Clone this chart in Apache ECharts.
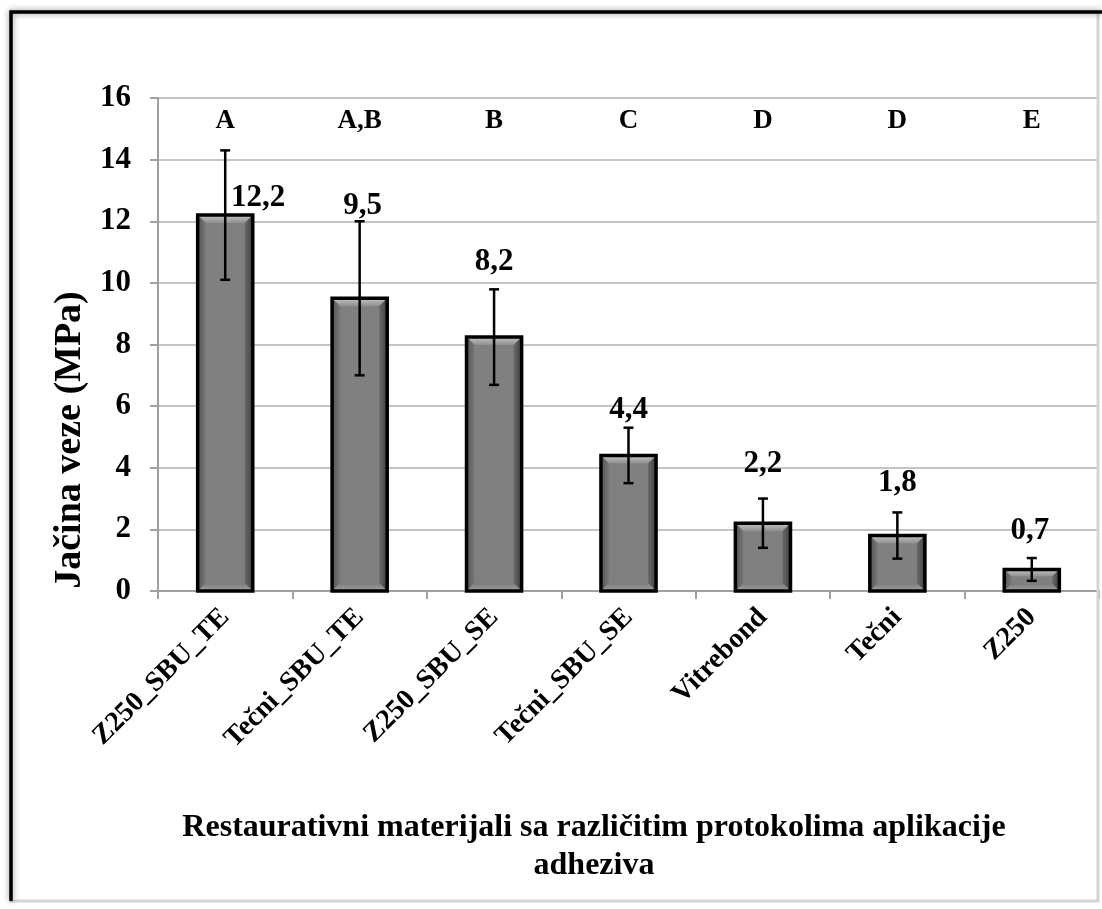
<!DOCTYPE html>
<html>
<head>
<meta charset="utf-8">
<script src="https://cdn.jsdelivr.net/npm/echarts@6/dist/echarts.min.js"></script>
<style>
html,body{margin:0;padding:0;background:#fff;}
#chart{width:1102px;height:909px;}
</style>
</head>
<body>
<div id="chart"></div>
<script>
// ---- data ----
const categories = ['Z250_SBU_TE', 'Tečni_SBU_TE', 'Z250_SBU_SE', 'Tečni_SBU_SE', 'Vitrebond', 'Tečni', 'Z250'];
const means = [12.2, 9.5, 8.24, 4.4, 2.2, 1.8, 0.7];
const sds = [2.1, 2.5, 1.55, 0.9, 0.8, 0.75, 0.37];
const groups = ['A', 'A,B', 'B', 'C', 'D', 'D', 'E'];
const yTicks = [0, 2, 4, 6, 8, 10, 12, 14, 16];
const yTitle = 'Jačina veze (MPa)';
const xTitleLines = ['Restaurativni materijali sa različitim protokolima aplikacije', 'adheziva'];

// ---- layout / style constants ----
const FONT = '"Liberation Serif", "Times New Roman", serif';
const groupLevel = 15.25;
// pixel offsets of value labels relative to the top of each error bar
const labelOffsets = [[33, 48], [3, -15], [0, -27], [0, -18], [0, -35], [0, -29], [-2, -27]];

const chart = echarts.init(document.getElementById('chart'), null, {renderer: 'canvas'});

const barData = means.map((v, i) => [i, v]);
const errData = means.map((v, i) => [i, v - sds[i], v + sds[i]]);
const grpData = groups.map((g, i) => [i, groupLevel]);
const valData = means.map((v, i) => [i, v + sds[i]]);

function txt(text, size) {
  return {text: text, fontFamily: FONT, fontWeight: 'bold', fontSize: size, fill: '#000', align: 'center', verticalAlign: 'middle'};
}

function renderBar(params, api) {
  const x = api.value(0), v = api.value(1);
  const top = api.coord([x, v]);
  const base = api.coord([x, 0]);
  const bw = api.size([1, 0])[0] * 0.41;
  const l = top[0] - bw / 2, r = top[0] + bw / 2, t = top[1], b = base[1];
  const h = b - t;
  const e = Math.min(8, h / 3);
  return {
    type: 'group',
    children: [
      {type: 'rect', shape: {x: l, y: t, width: bw, height: h}, style: {fill: '#808080'}},
      {type: 'polygon', shape: {points: [[l, t], [r, t], [r - e, t + e], [l + e, t + e]]},
        style: {fill: new echarts.graphic.LinearGradient(0, 0, 0, 1, [{offset: 0, color: '#c4c4c4'}, {offset: 1, color: '#8e8e8e'}])}},
      {type: 'polygon', shape: {points: [[l, t], [l + e, t + e], [l + e, b - e], [l, b]]},
        style: {fill: new echarts.graphic.LinearGradient(0, 0, 1, 0, [{offset: 0, color: '#555'}, {offset: 1, color: '#777'}])}},
      {type: 'polygon', shape: {points: [[r, t], [r, b], [r - e, b - e], [r - e, t + e]]},
        style: {fill: new echarts.graphic.LinearGradient(0, 0, 1, 0, [{offset: 0, color: '#6a6a6a'}, {offset: 1, color: '#404040'}])}},
      {type: 'polygon', shape: {points: [[l, b], [l + e, b - e], [r - e, b - e], [r, b]]},
        style: {fill: new echarts.graphic.LinearGradient(0, 0, 0, 1, [{offset: 0, color: '#7a7a7a'}, {offset: 1, color: '#a0a0a0'}])}},
      {type: 'rect', shape: {x: l, y: t, width: bw, height: h}, style: {fill: 'none', stroke: '#000', lineWidth: 3.5}}
    ]
  };
}

function renderErr(params, api) {
  const x = api.value(0);
  const lo = api.coord([x, api.value(1)]);
  const hi = api.coord([x, api.value(2)]);
  const c = 5;
  const st = {stroke: '#000', lineWidth: 2.5};
  return {
    type: 'group',
    children: [
      {type: 'line', shape: {x1: lo[0], y1: lo[1], x2: hi[0], y2: hi[1]}, style: st},
      {type: 'line', shape: {x1: lo[0] - c, y1: lo[1], x2: lo[0] + c, y2: lo[1]}, style: st},
      {type: 'line', shape: {x1: hi[0] - c, y1: hi[1], x2: hi[0] + c, y2: hi[1]}, style: st}
    ]
  };
}

function renderGroup(params, api) {
  const p = api.coord([api.value(0), api.value(1)]);
  return {type: 'text', x: p[0], y: p[1], style: txt(groups[params.dataIndex], 27)};
}

function renderVal(params, api) {
  const i = params.dataIndex;
  const p = api.coord([api.value(0), api.value(1)]);
  const o = labelOffsets[i];
  return {type: 'text', x: p[0] + o[0], y: p[1] + o[1], style: txt(means[i].toFixed(1).replace('.', ','), 31)};
}

const option = {
  backgroundColor: '#fff',
  animation: false,
  grid: {left: 158, right: 3, top: 98, bottom: 318, containLabel: false},
  xAxis: {
    type: 'category',
    data: categories,
    boundaryGap: true,
    axisLine: {show: true, lineStyle: {color: '#a0a0a0', width: 2}},
    axisTick: {show: true, length: 8, lineStyle: {color: '#a0a0a0', width: 2}},
    axisLabel: {rotate: 45, margin: 22, interval: 0, color: '#000', fontFamily: FONT, fontWeight: 'bold', fontSize: 28},
    splitLine: {show: false}
  },
  yAxis: {
    type: 'value',
    min: yTicks[0], max: yTicks[yTicks.length - 1], interval: yTicks[1] - yTicks[0],
    axisLine: {show: true, lineStyle: {color: '#a0a0a0', width: 2}},
    axisTick: {show: true, length: 8, lineStyle: {color: '#a0a0a0', width: 2}},
    axisLabel: {margin: 27, color: '#000', fontFamily: FONT, fontWeight: 'bold', fontSize: 31},
    splitLine: {show: true, lineStyle: {color: '#c4c4c4', width: 2}}
  },
  series: [
    {type: 'custom', name: 'bars', renderItem: renderBar, data: barData, encode: {x: 0, y: 1}, z: 2},
    {type: 'custom', name: 'err', renderItem: renderErr, data: errData, encode: {x: 0, y: [1, 2]}, z: 3},
    {type: 'custom', name: 'groups', renderItem: renderGroup, data: grpData, encode: {x: 0, y: 1}, z: 4},
    {type: 'custom', name: 'values', renderItem: renderVal, data: valData, encode: {x: 0, y: 1}, z: 4}
  ],
  graphic: [
    {type: 'rect', shape: {x: 11, y: 12, width: 1087, height: 889}, style: {fill: 'none', stroke: '#d4d4d4', lineWidth: 3}, z: 10},
    {type: 'polyline', shape: {points: [[11, 901], [11, 12], [1102, 12]]},
      style: {stroke: '#000', lineWidth: 3.5, fill: null, shadowBlur: 6, shadowColor: 'rgba(0,0,0,0.45)', shadowOffsetX: 0, shadowOffsetY: 0}, z: 11},
    {type: 'text', x: 70, y: 440, rotation: Math.PI / 2, style: txt(yTitle, 38), z: 10},
    {type: 'text', x: 594, y: 828, style: txt(xTitleLines[0], 32), z: 10},
    {type: 'text', x: 594, y: 866, style: txt(xTitleLines[1], 32), z: 10}
  ]
};
chart.setOption(option);
</script>
</body>
</html>
